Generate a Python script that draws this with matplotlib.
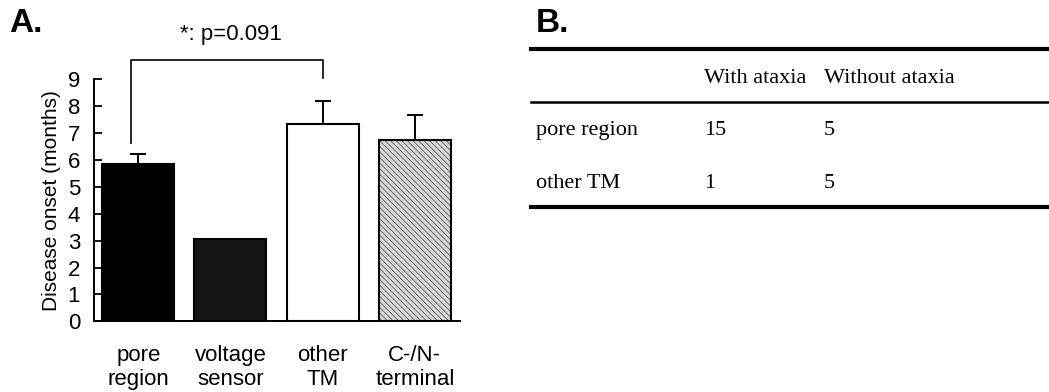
import matplotlib
matplotlib.use("Agg")
import matplotlib.pyplot as plt
from matplotlib.lines import Line2D

plt.rcParams['font.family'] = ['Liberation Sans', 'DejaVu Sans']
plt.rcParams['hatch.linewidth'] = 0.6

# panel A data
groups = ['pore\nregion', 'voltage\nsensor', 'other\nTM', 'C-/N-\nterminal']
onset = [5.85, 3.05, 7.32, 6.73]
onset_err = [0.37, 0.0, 0.88, 0.95]
bar_faces = ['#000000', '#141414', '#ffffff', '#d8d8d8']
bar_hatch = [None, None, None, '\\\\\\\\\\\\']
y_ticks = list(range(10))
p_text = '*: p=0.091'

# panel B table
col_names = ['With ataxia', 'Without ataxia']
row_names = ['pore region', 'other TM']
with_ataxia = [15, 1]
without_ataxia = [5, 5]

W, H = 1049, 392
fig = plt.figure(figsize=(W / 100, H / 100), dpi=100)

ax = fig.add_axes([94 / W, 1 - 321.3 / H, (460 - 94) / W, (321.3 - 79.3) / H])
x = list(range(len(groups)))
for i in x:
    ax.bar(i, onset[i], width=0.78, color=bar_faces[i], edgecolor='black',
           linewidth=1.5, hatch=bar_hatch[i], zorder=2)
    if onset_err[i] > 0:
        ax.errorbar(i, onset[i], yerr=[[0], [onset_err[i]]], fmt='none',
                    ecolor='black', elinewidth=1.4, capsize=6, capthick=1.4, zorder=1)
# hatch colour for the textured bar
for p in ax.patches:
    if p.get_hatch():
        p._hatch_color = (0.35, 0.35, 0.35, 1.0)

ax.set_xlim(-0.48, 3.49)
ax.set_ylim(0, 9)
ax.set_yticks(y_ticks)
ax.set_xticks(x)
ax.set_xticklabels(groups, fontsize=16, linespacing=1.2)
ax.tick_params(axis='x', length=0, pad=17)
ax.tick_params(axis='y', direction='in', length=6, width=1.3, labelsize=16, pad=10)
ax.set_ylabel('Disease onset (months)', fontsize=15, labelpad=5)
for s in ['top', 'right']:
    ax.spines[s].set_visible(False)
for s in ['left', 'bottom']:
    ax.spines[s].set_linewidth(1.4)

# significance bracket
ax.plot([-0.08, -0.08, 2, 2], [onset[0] + onset_err[0] + 0.4, 9.7, 9.7, 9.05],
        color='black', linewidth=1.2, clip_on=False)
ax.text(1, 10.45, p_text, ha='center', va='baseline', fontsize=16)

# overlay for panel letters and table
ov = fig.add_axes([0, 0, 1, 1])
ov.set_xlim(0, W)
ov.set_ylim(H, 0)
ov.axis('off')

ov.text(9, 32, 'A.', fontsize=24, fontweight='bold', ha='left', va='baseline')
ov.text(536, 32, 'B.', fontsize=24, fontweight='bold', ha='left', va='baseline')

serif = ['Liberation Serif', 'DejaVu Serif']
ov.add_line(Line2D([531, W], [49, 49], color='black', linewidth=3))
ov.add_line(Line2D([531, W], [101.5, 101.5], color='black', linewidth=1.8))
ov.add_line(Line2D([531, W], [207, 207], color='black', linewidth=3))

col_x = [704, 824]
row_y = [135, 188]
for cx, name in zip(col_x, col_names):
    ov.text(cx, 82.7, name, family=serif, fontsize=16, ha='left', va='baseline')
for ry, name, a, b in zip(row_y, row_names, with_ataxia, without_ataxia):
    ov.text(536, ry, name, family=serif, fontsize=16, ha='left', va='baseline')
    ov.text(col_x[0], ry, str(a), family=serif, fontsize=16, ha='left', va='baseline')
    ov.text(col_x[1], ry, str(b), family=serif, fontsize=16, ha='left', va='baseline')

fig.savefig('out.png', dpi=100)
